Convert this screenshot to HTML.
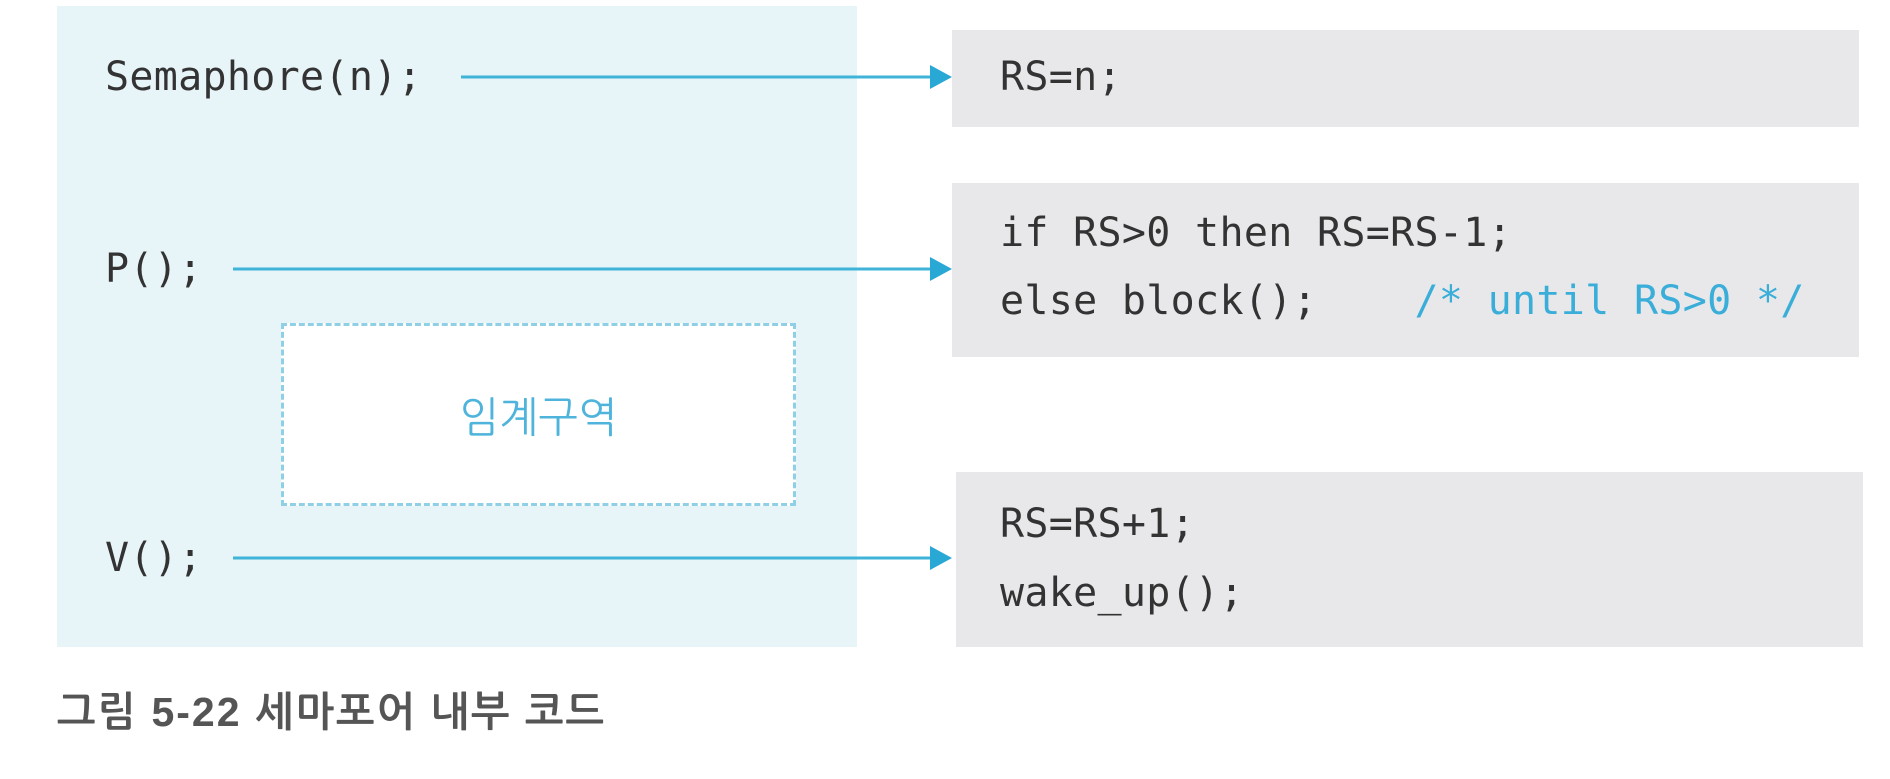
<!DOCTYPE html>
<html><head><meta charset="utf-8"><style>
body{margin:0;width:1890px;height:779px;background:#fff;position:relative;overflow:hidden;font-family:"DejaVu Sans Mono","Liberation Mono",monospace;}
.a{position:absolute}
.t{position:absolute;font-size:40px;color:#333;line-height:1;transform:translateY(-50%);white-space:pre;letter-spacing:0.3px}
.g{position:absolute;background:#e8e8ea}
</style></head><body>
<div class="a" style="left:57px;top:6px;width:800px;height:641px;background:#e7f4f8"></div>
<div class="a" style="left:281px;top:323px;width:509px;height:177px;background:#fff;border:3px dashed #8fd0e6"></div>
<div class="a" style="left:281px;top:397px;width:515px;text-align:center;font-family:'Liberation Sans','NanumGothic','Noto Sans CJK KR',sans-serif;font-size:42px;color:#4fb4dc;line-height:1">임계구역</div>
<div class="g" style="left:952px;top:30px;width:907px;height:97px"></div>
<div class="g" style="left:952px;top:183px;width:907px;height:174px"></div>
<div class="g" style="left:956px;top:472px;width:907px;height:175px"></div>
<svg class="a" style="left:0;top:0" width="1890" height="779">
<g stroke="#3fb4d8" stroke-width="3"><line x1="461" y1="77" x2="935" y2="77"/><line x1="233" y1="269" x2="935" y2="269"/><line x1="233" y1="558" x2="935" y2="558"/></g>
<g fill="#29a8d6"><polygon points="930,65 952,77 930,89"/><polygon points="930,257 952,269 930,281"/><polygon points="930,546 952,558 930,570"/></g>
</svg>
<div class="t" style="left:105px;top:77px">Semaphore(n);</div>
<div class="t" style="left:105px;top:269px">P();</div>
<div class="t" style="left:105px;top:558px">V();</div>
<div class="t" style="left:1000px;top:77px">RS=n;</div>
<div class="t" style="left:1000px;top:233px">if RS&gt;0 then RS=RS-1;</div>
<div class="t" style="left:1000px;top:301px">else block();    <span style="color:#3aaed8">/* until RS&gt;0 */</span></div>
<div class="t" style="left:1000px;top:524px">RS=RS+1;</div>
<div class="t" style="left:1000px;top:593px">wake_up();</div>
<div class="a" style="left:57px;top:692px;font-family:'Liberation Sans','NanumGothic','Noto Sans CJK KR',sans-serif;font-size:41px;font-weight:bold;color:#555;line-height:1;letter-spacing:2px">그림 5-22 세마포어 내부 코드</div>
</body></html>
